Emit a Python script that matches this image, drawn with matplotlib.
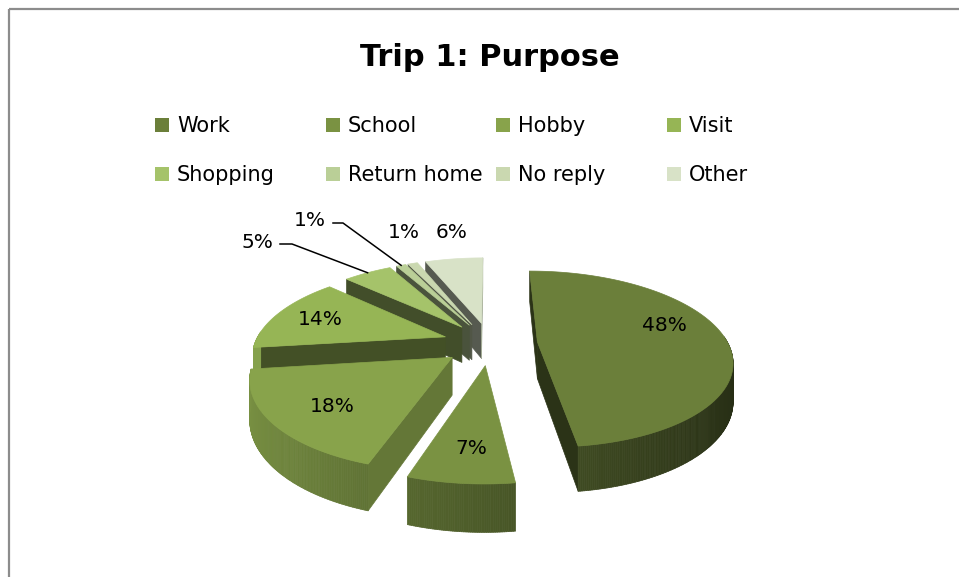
import numpy as np
import matplotlib.pyplot as plt
from matplotlib.patches import Polygon, Rectangle
from matplotlib.colors import to_rgb

categories = ['Work', 'School', 'Hobby', 'Visit', 'Shopping', 'Return home', 'No reply', 'Other']
shares = [48, 7, 18, 14, 5, 1, 1, 6]
colors = ['#6b7f3a', '#7a9242', '#88a34b', '#96b555', '#a5c36a', '#bacf97', '#cad8b0', '#d8e2c7']

plt.rcParams['font.family'] = ['DejaVu Sans']

# 3d view of the pie, canvas measured in pixels
ELEV = np.radians(29)
DIST = 4.6
FOCAL = 856
CX, CY = 490, 380
THICK = 0.22
EXPLODE = 0.25
COS_E, SIN_E = np.cos(ELEV), np.sin(ELEV)
CAM = np.array([0.0, -DIST * COS_E, DIST * SIN_E])

# label placement: radius on the top face, or a fixed spot with a leader line
LABEL_R = 0.72
label_nudge = [(-8, -13), (3, 4), (4, 3), (-4, 0), None, None, None, None]
outside_text = {4: (257, 242), 5: (310, 221), 6: (404, 232), 7: (452, 233)}
leaders = {4: (280, 292), 5: (333, 343)}


def project(p):
    # perspective only across the pie plane; the height is a straight drop
    x, y, z = p
    w = DIST + y * COS_E - THICK * SIN_E
    up = y * SIN_E + z * COS_E
    return CX + FOCAL * x / w, CY - FOCAL * up / w


def facing(normal, point):
    return np.dot(normal, CAM - np.asarray(point)) > 0


def shade(col, k):
    return tuple(np.clip(np.array(to_rgb(col)) * k, 0, 1))


fig = plt.figure(figsize=(9.59, 5.77), dpi=100)
ax = fig.add_axes([0, 0, 1, 1])
ax.set_xlim(0, 959)
ax.set_ylim(577, 0)
ax.axis('off')

# slice angles, clockwise from 12 o'clock
bounds = np.concatenate([[0], np.cumsum(shares)]) / sum(shares) * 360.0
slices = []
for i in range(len(shares)):
    a1, a2 = np.radians(bounds[i]), np.radians(bounds[i + 1])
    am = 0.5 * (a1 + a2)
    off = EXPLODE * np.array([np.sin(am), np.cos(am)])
    slices.append((i, a1, a2, am, off))

# far slices first
order = sorted(slices, key=lambda s: -(s[4][1] + 0.5 * np.cos(s[3])))


def add_poly(pts3d, col):
    pts = [project(p) for p in pts3d]
    ax.add_patch(Polygon(pts, closed=True, facecolor=col, edgecolor=col,
                         lw=0.5, joinstyle='round'))


for i, a1, a2, am, off in order:
    base = colors[i]
    ox, oy = off
    apex0 = (ox, oy, 0.0)
    apexH = (ox, oy, THICK)

    def rim(t, z):
        return (ox + np.sin(t), oy + np.cos(t), z)

    # flat cut faces
    n1 = np.array([-np.cos(a1), np.sin(a1), 0.0])
    n2 = np.array([np.cos(a2), -np.sin(a2), 0.0])
    for t, n in ((a1, n1), (a2, n2)):
        if facing(n, apex0):
            k = 0.40 + 0.35 * max(0.0, n[0])
            add_poly([apex0, apexH, rim(t, THICK), rim(t, 0.0)], shade(base, k))

    # curved outer wall, front half only
    ts = np.linspace(a1, a2, max(3, int(np.degrees(a2 - a1) * 2)))
    for t0, t1 in zip(ts[:-1], ts[1:]):
        tm = 0.5 * (t0 + t1)
        if np.cos(tm) < 0.06:
            k = 0.62 - 0.27 * np.sin(tm)
            add_poly([rim(t0, 0.0), rim(t1, 0.0), rim(t1, THICK), rim(t0, THICK)],
                     shade(base, k))

    # top face
    add_poly([apexH] + [rim(t, THICK) for t in ts], base)

# value labels
for i, a1, a2, am, off in slices:
    txt = f'{shares[i]}%'
    if i in outside_text:
        tx, ty = outside_text[i]
        ax.text(tx, ty, txt, fontsize=14.5, ha='center', va='center', color='black')
        if i in leaders:
            x0, x1 = leaders[i]
            ex, ey = project((off[0] + np.sin(am), off[1] + np.cos(am), THICK))
            ax.plot([x0, x1, ex], [ty + 2, ty + 2, ey], color='black', lw=1.1)
    else:
        px, py = project((off[0] + LABEL_R * np.sin(am), off[1] + LABEL_R * np.cos(am), THICK))
        dx, dy = label_nudge[i]
        ax.text(px + dx, py + dy, txt, fontsize=14.5, ha='center', va='center', color='black')

# title
ax.text(490, 66, 'Trip 1: Purpose', fontsize=22, fontweight='bold', ha='center', va='baseline')

# legend, four per row
for i, name in enumerate(categories):
    row, col = divmod(i, 4)
    x = 155 + 170.7 * col
    y = 125 + 49 * row
    ax.add_patch(Rectangle((x, y - 7), 14, 14, facecolor=colors[i], edgecolor='none'))
    ax.text(x + 22, y + 7, name, fontsize=15, ha='left', va='baseline')

# chart frame
ax.plot([9, 9], [577, 9], color='#8c8c8c', lw=1.6, solid_capstyle='butt')
ax.plot([9, 959], [9, 9], color='#8c8c8c', lw=1.6, solid_capstyle='butt')

fig.savefig('out.png', dpi=100)
